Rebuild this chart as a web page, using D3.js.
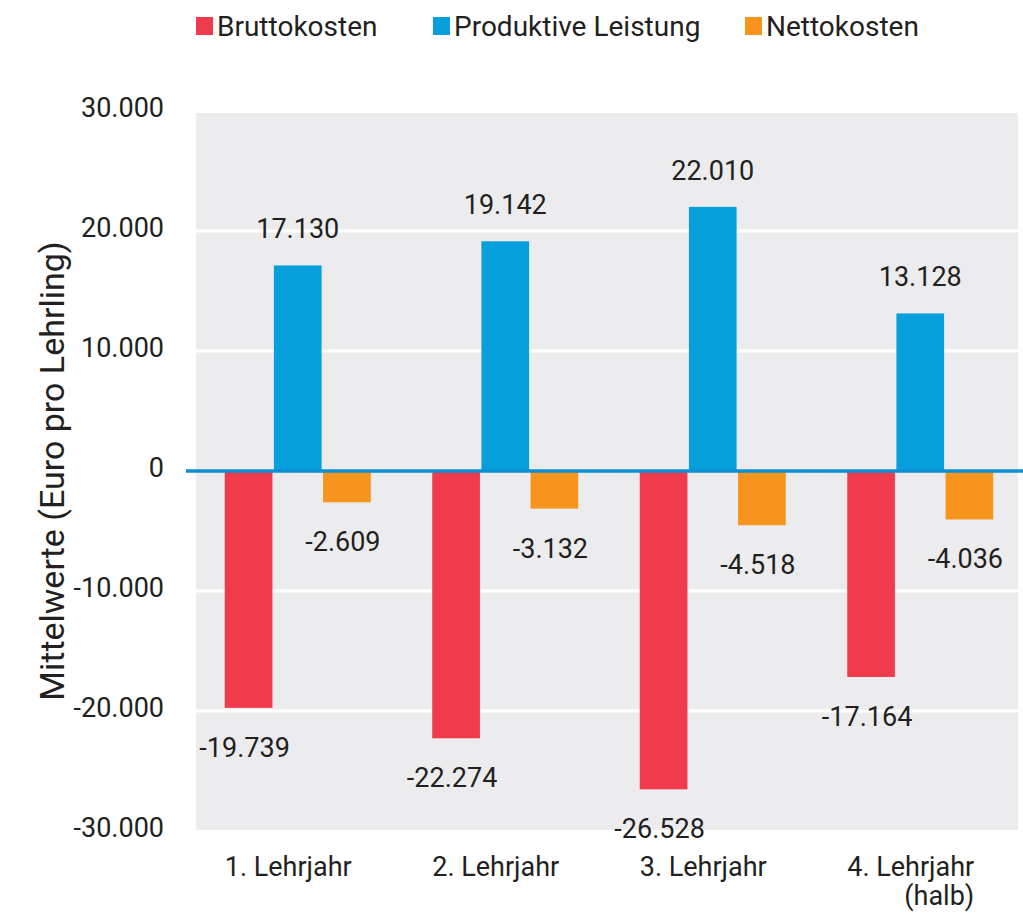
<!DOCTYPE html>
<html>
<head>
<meta charset="utf-8">
<script src="https://cdn.jsdelivr.net/npm/d3@7"></script>
<style>
  body { margin: 0; background: #fff; }
  text { font-family: Roboto, "Noto Sans", sans-serif; fill: #231f20; }
</style>
</head>
<body>
<div class="bar-graph"></div>
<script>
const categories = [['1. Lehrjahr'], ['2. Lehrjahr'], ['3. Lehrjahr'], ['4. Lehrjahr', '(halb)']];
const seriesNames = ['Bruttokosten', 'Produktive Leistung', 'Nettokosten'];
const bruttokosten = [-19739, -22274, -26528, -17164];
const produktiveLeistung = [17130, 19142, 22010, 13128];
const nettokosten = [-2609, -3132, -4518, -4036];
const yTicks = [-30000, -20000, -10000, 0, 10000, 20000, 30000];
const colors = ['#ef3b4b', '#069fdb', '#f7941d'];

const seriesValues = [bruttokosten, produktiveLeistung, nettokosten];
const fmt = v => d3.format(',')(v).replace(/,/g, '.').replace('−', '-');

const width = 1023, height = 913;
const svg = d3.select('.bar-graph').append('svg')
  .attr('width', width)
  .attr('height', height);

const plot = { left: 196, right: 1018, top: 113, bottom: 830 };

const yScale = d3.scaleLinear()
  .domain([-30000, 30000])
  .range([831, 111]);

const xScale = d3.scaleBand()
  .domain(d3.range(categories.length))
  .range([194, 1024]);

const xSub = d3.scaleBand()
  .domain(d3.range(seriesNames.length))
  .range([-73, 73])
  .paddingInner(0.03);

// background
svg.append('rect')
  .attr('x', plot.left).attr('y', plot.top)
  .attr('width', plot.right - plot.left)
  .attr('height', plot.bottom - plot.top)
  .style('fill', '#ececee');

// white gridlines
svg.append('g').selectAll('line')
  .data(yTicks.filter(t => t !== 0 && Math.abs(t) < 30000))
  .enter().append('line')
  .attr('x1', plot.left).attr('x2', plot.right)
  .attr('y1', d => yScale(d)).attr('y2', d => yScale(d))
  .style('stroke', '#fff').style('stroke-width', 3);

// y axis labels
const yAxis = svg.append('g')
  .attr('transform', 'translate(164,0)')
  .call(d3.axisLeft(yScale).tickValues(yTicks).tickSize(0).tickPadding(0).tickFormat(fmt));
yAxis.select('.domain').remove();
yAxis.selectAll('text')
  .style('font-size', '27px')
  .style('font-family', 'Roboto, sans-serif')
  .attr('fill', '#231f20')
  .attr('dy', '0.22em');

// bars
const data = [];
categories.forEach((c, i) => {
  seriesValues.forEach((vals, s) => data.push({ i, s, v: vals[i] }));
});

const bars = svg.append('g');
bars.selectAll('rect')
  .data(data)
  .enter().append('rect')
  .attr('x', d => xScale(d.i) + xScale.bandwidth() / 2 + xSub(d.s))
  .attr('width', xSub.bandwidth())
  .attr('y', d => yScale(Math.max(0, d.v)))
  .attr('height', d => Math.abs(yScale(d.v) - yScale(0)))
  .style('fill', d => colors[d.s]);

// value labels
bars.selectAll('text')
  .data(data)
  .enter().append('text')
  .attr('x', d => xScale(d.i) + xScale.bandwidth() / 2 + xSub(d.s) + xSub.bandwidth() / 2 - (d.v < 0 ? 4 : 0))
  .attr('y', d => d.v >= 0 ? yScale(d.v) - 27 : yScale(d.v) + 49)
  .attr('text-anchor', 'middle')
  .style('font-size', '27px')
  .text(d => fmt(d.v));

// zero line
svg.append('line')
  .attr('x1', 186).attr('x2', width)
  .attr('y1', yScale(0)).attr('y2', yScale(0))
  .style('stroke', '#0a8fd3').style('stroke-width', 3.5);

// category labels
const cat = svg.append('g').selectAll('text')
  .data(categories)
  .enter().append('text')
  .attr('text-anchor', 'end')
  .attr('x', (d, i) => xScale(i) + xScale.bandwidth() / 2 - 12 + 66)
  .attr('y', 876)
  .style('font-size', '27px');
cat.selectAll('tspan')
  .data(d => d)
  .enter().append('tspan')
  .attr('x', function () { return d3.select(this.parentNode).attr('x'); })
  .attr('dy', (d, j) => j === 0 ? 0 : 29)
  .text(d => d);

// y axis title
svg.append('text')
  .attr('transform', 'translate(64,471) rotate(-90)')
  .attr('text-anchor', 'middle')
  .style('font-size', '34px')
  .text('Mittelwerte (Euro pro Lehrling)');

// legend
const legendX = [196, 433, 745];
const legend = svg.append('g').selectAll('g')
  .data(seriesNames)
  .enter().append('g')
  .attr('transform', (d, i) => `translate(${legendX[i]},17)`);
legend.append('rect')
  .attr('width', 17).attr('height', 18)
  .style('fill', (d, i) => colors[i]);
legend.append('text')
  .attr('x', 21).attr('y', 19)
  .style('font-size', '28px')
  .text(d => d);
</script>
</body>
</html>
